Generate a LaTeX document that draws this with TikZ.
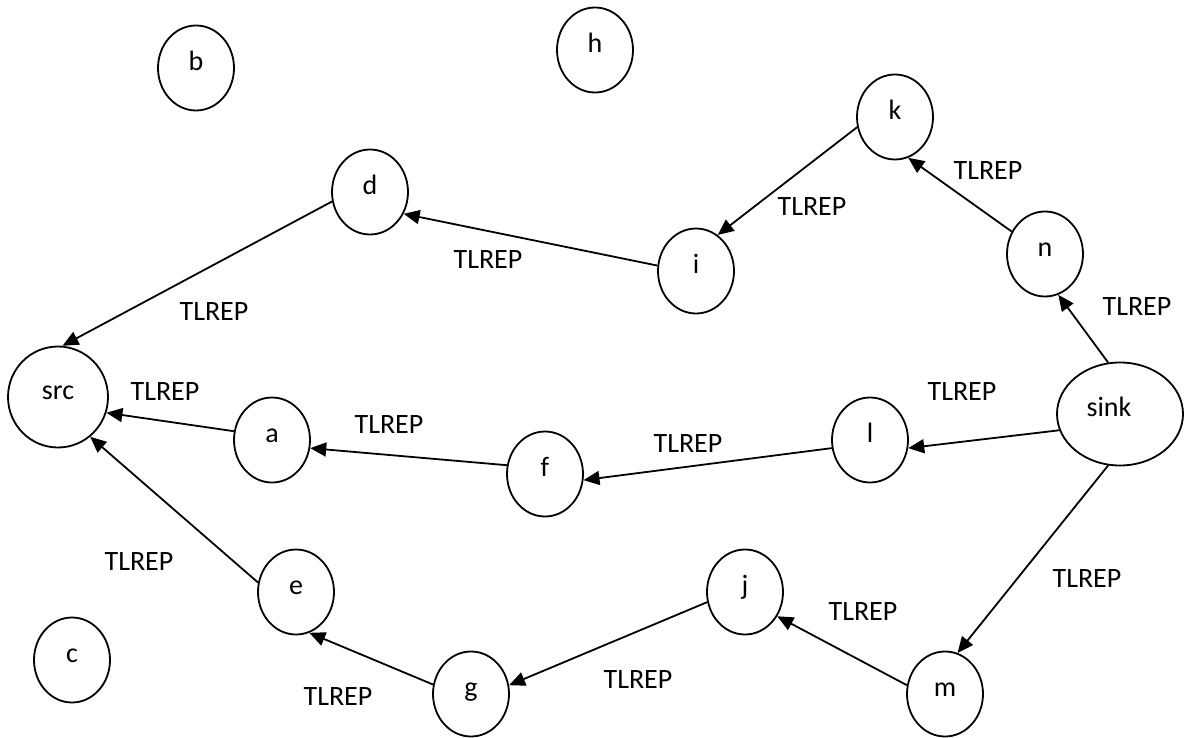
\documentclass[tikz,border=0pt]{standalone}
\usepackage{fontspec}
\setmainfont{Carlito}
\usetikzlibrary{shapes.geometric,arrows.meta}
\begin{document}
\begin{tikzpicture}[x=1pt,y=-1pt,
  txt/.style={font=\fontsize{28}{34}\selectfont},
  vertex/.style={ellipse,draw,line width=1.8pt,minimum width=76pt,minimum height=85pt,
    inner sep=0pt,text height=1ex,text depth=0pt,txt},
  big/.style={minimum width=100pt,minimum height=101pt},
  wide/.style={minimum width=126pt,minimum height=103pt},
  edge/.style={line width=1.8pt,-{Triangle[length=16pt,width=14pt]}},
  tag/.style={txt,inner sep=0pt}]
\fill[white] (0,0) rectangle (1187,738);
\useasboundingbox (0,0) rectangle (1187,738);

% vertices
\node[vertex] (b) at (196,68) {b};
\node[vertex] (h) at (595,50) {h};
\node[vertex] (k) at (895,117) {k};
\node[vertex] (d) at (370,192) {d};
\node[vertex] (i) at (696,271) {i};
\node[vertex] (n) at (1045,254) {n};
\node[vertex,big] (src) at (58,397) {src};
\node[vertex] (a) at (272,440) {a};
\node[vertex] (f) at (545,474) {f};
\node[vertex] (l) at (870,440) {l};
\node[vertex,wide] (sink) at (1120,414) {sink\hspace*{22pt}};
\node[vertex] (e) at (296,592) {e};
\node[vertex] (c) at (72,660) {c};
\node[vertex] (j) at (745,592) {j};
\node[vertex] (g) at (471,694) {g};
\node[vertex] (m) at (945,694) {m};

% directed links
\draw[edge] (d.194) -- (src.85);
\draw[edge] (i.172) -- (d.327);
\draw[edge] (k.195) -- (i.59);
\draw[edge] (n.146) -- (k.288);
\draw[edge] (sink.103) -- (n.288);
\draw[edge] (sink.195) -- (l.348);
\draw[edge] (l.192) -- (f.351);
\draw[edge] (f.167) -- (a.348);
\draw[edge] (a.167) -- (src.342);
\draw[edge] (e.166) -- (src.309);
\draw[edge] (sink.257) -- (m.73);
\draw[edge] (m.167) -- (j.323);
\draw[edge] (j.195) -- (g.13);
\draw[edge] (g.166) -- (e.288);

% link labels
\node[tag] (t1) at (214,312) {TLREP};
\node[tag] (t2) at (488,260) {TLREP};
\node[tag] (t3) at (812,207) {TLREP};
\node[tag] (t4) at (988,171) {TLREP};
\node[tag] (t5) at (1137,307) {TLREP};
\node[tag] (t6) at (962,392) {TLREP};
\node[tag] (t7) at (165,392) {TLREP};
\node[tag] (t8) at (389,425) {TLREP};
\node[tag] (t9) at (688,444) {TLREP};
\node[tag] (t10) at (139,562) {TLREP};
\node[tag] (t11) at (1087,579) {TLREP};
\node[tag] (t12) at (863,612) {TLREP};
\node[tag] (t13) at (638,680) {TLREP};
\node[tag] (t14) at (338,697) {TLREP};
\end{tikzpicture}
\end{document}
